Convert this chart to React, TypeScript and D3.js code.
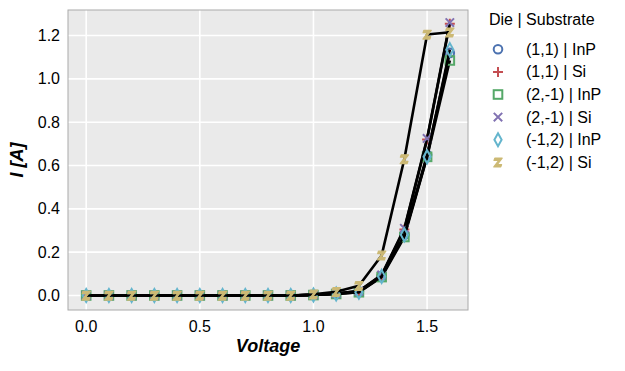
import React from "react";
import * as d3 from "d3";

const voltages = [0, 0.1, 0.2, 0.3, 0.4, 0.5, 0.6, 0.7, 0.8, 0.9, 1.0, 1.1, 1.2, 1.3, 1.4, 1.5, 1.6];
const inp11 = [0, 0, 0, 0, 0, 0, 0, 0, 0, 0, 0.003, 0.008, 0.018, 0.09, 0.28, 0.65, 1.12];
const si11 = [0, 0, 0, 0, 0, 0, 0, 0, 0, 0, 0.003, 0.009, 0.02, 0.092, 0.305, 0.72, 1.255];
const inp21 = [0, 0, 0, 0, 0, 0, 0, 0, 0, 0, 0.002, 0.007, 0.015, 0.085, 0.27, 0.64, 1.085];
const si21 = [0, 0, 0, 0, 0, 0, 0, 0, 0, 0, 0.003, 0.009, 0.02, 0.095, 0.31, 0.725, 1.26];
const inp12 = [0, 0, 0, 0, 0, 0, 0, 0, 0, 0, 0.002, 0.007, 0.015, 0.088, 0.28, 0.64, 1.135];
const si12 = [0, 0, 0, 0, 0, 0, 0, 0, 0, 0, 0.005, 0.017, 0.045, 0.185, 0.63, 1.205, 1.215];

const seriesNames = ["(1,1) | InP", "(1,1) | Si", "(2,-1) | InP", "(2,-1) | Si", "(-1,2) | InP", "(-1,2) | Si"];
const seriesValues = [inp11, si11, inp21, si21, inp12, si12];
const seriesColors = ["#4C72B0", "#C44E52", "#55A868", "#8172B2", "#64B5CD", "#CCB974"];
const seriesMarkers = ["circle", "plus", "square", "x", "diamond", "z"];

const xTicks = [0, 0.5, 1.0, 1.5];
const yTicks = [0, 0.2, 0.4, 0.6, 0.8, 1.0, 1.2];

const FONT = "'Liberation Sans', Arial, sans-serif";

function Marker({ kind, x, y, color }: { kind: string; x: number; y: number; color: string }) {
  const t = `translate(${x},${y})`;
  switch (kind) {
    case "circle":
      return <circle transform={t} r={4.3} fill="none" stroke={color} strokeWidth={2} />;
    case "plus":
      return <path transform={t} d="M-5,0H5M0,-5V5" stroke={color} strokeWidth={2} fill="none" />;
    case "square":
      return <rect transform={t} x={-4.3} y={-4.3} width={8.6} height={8.6} fill="none" stroke={color} strokeWidth={2} />;
    case "x":
      return <path transform={t} d="M-4.2,-4.2L4.2,4.2M-4.2,4.2L4.2,-4.2" stroke={color} strokeWidth={2} fill="none" />;
    case "diamond":
      return <path transform={t} d="M0,-6.5L3.6,0L0,6.5L-3.6,0Z" stroke={color} strokeWidth={2} fill="none" />;
    case "z":
      return (
        <path
          transform={t}
          d="M-3.2,-4.2H4.2L-0.6,2.2H3.6L2.8,4.6H-4.2L0.6,-1.8H-4L-3.2,-4.2Z"
          fill={color}
          stroke={color}
          strokeWidth={1.2}
          strokeLinejoin="round"
        />
      );
    default:
      return null;
  }
}

export default function App() {
  const W = 625;
  const H = 371;
  const left = 68, right = 468, top = 10, bottom = 310;
  const x = d3.scaleLinear().domain([-0.08, 1.68]).range([left, right]);
  const y = d3.scaleLinear().domain([-0.067, 1.318]).range([bottom, top]);
  const line = d3
    .line<number>()
    .x((_, i) => x(voltages[i]))
    .y((d) => y(d));

  return (
    <svg width={W} height={H} style={{ position: "absolute", left: 0, top: 0 }} fontFamily={FONT}>
      <rect x={0} y={0} width={W} height={H} fill="#ffffff" />
      <rect x={left} y={top} width={right - left} height={bottom - top} fill="#EAEAEA" />
      {xTicks.map((t) => (
        <line key={"gx" + t} x1={x(t)} x2={x(t)} y1={top} y2={bottom} stroke="#ffffff" strokeWidth={1.6} />
      ))}
      {yTicks.map((t) => (
        <line key={"gy" + t} x1={left} x2={right} y1={y(t)} y2={y(t)} stroke="#ffffff" strokeWidth={1.6} />
      ))}
      {seriesValues.map((vals, si) => (
        <g key={"s" + si}>
          <path d={line(vals) || ""} fill="none" stroke="#000000" strokeWidth={2.6} strokeLinejoin="round" />
          {vals.map((v, i) => (
            <Marker key={i} kind={seriesMarkers[si]} x={x(voltages[i])} y={y(v)} color={seriesColors[si]} />
          ))}
        </g>
      ))}
      <rect x={left} y={top} width={right - left} height={bottom - top} fill="none" stroke="#AAAAAA" strokeWidth={1} />
      {xTicks.map((t) => (
        <text key={"tx" + t} x={x(t)} y={332} textAnchor="middle" fontSize={16} fill="#000">
          {d3.format(".1f")(t)}
        </text>
      ))}
      {yTicks.map((t) => (
        <text key={"ty" + t} x={60} y={y(t) + 5.5} textAnchor="end" fontSize={16} fill="#000">
          {d3.format(".1f")(t)}
        </text>
      ))}
      <text x={(left + right) / 2} y={352} textAnchor="middle" fontSize={18} fontWeight="bold" fontStyle="italic" fill="#000">
        Voltage
      </text>
      <text
        transform={`translate(23,${(top + bottom) / 2}) rotate(-90)`}
        textAnchor="middle"
        fontSize={18}
        fontWeight="bold"
        fontStyle="italic"
        fill="#000"
      >
        I [A]
      </text>
      <text x={489} y={25} fontSize={16} fill="#000">
        Die | Substrate
      </text>
      {seriesNames.map((n, i) => {
        const cy = 49.3 + i * 22.6;
        return (
          <g key={"l" + i}>
            <Marker kind={seriesMarkers[i]} x={498} y={cy} color={seriesColors[i]} />
            <text x={526} y={cy + 5.5} fontSize={16} fill="#000">
              {n}
            </text>
          </g>
        );
      })}
    </svg>
  );
}
